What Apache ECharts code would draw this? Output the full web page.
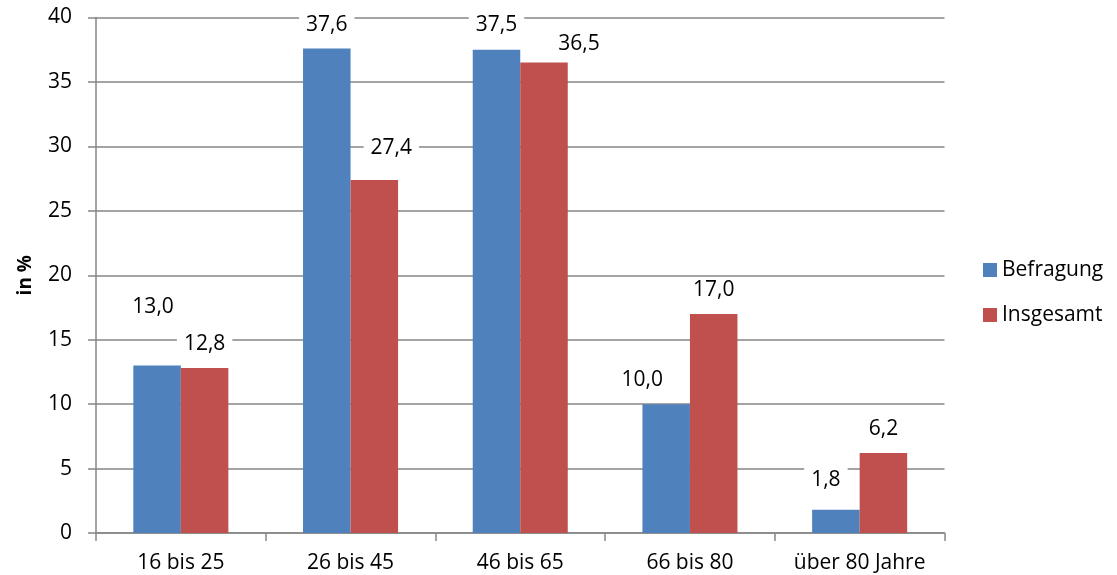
<!DOCTYPE html>
<html>
<head>
<meta charset="utf-8">
<script src="https://cdn.jsdelivr.net/npm/echarts@6/dist/echarts.min.js"></script>
<style>
html,body{margin:0;padding:0;background:#fff;}
#chart{width:1117px;height:575px;}
</style>
</head>
<body>
<div id="chart"></div>
<script>
const categories = ['16 bis 25', '26 bis 45', '46 bis 65', '66 bis 80', 'über 80 Jahre'];
const befragung = [13.0, 37.6, 37.5, 10.0, 1.8];
const insgesamt = [12.8, 27.4, 36.5, 17.0, 6.2];
const seriesNames = ['Befragung', 'Insgesamt'];
const yTicks = [0, 5, 10, 15, 20, 25, 30, 35, 40];

// label nudges (as placed in the original chart)
const befragungLabelOffsets = [[-4, -34], [0, 1], [0, -1], [-24, 0], [-10, -6]];
const insgesamtLabelOffsets = [[0, 0], [17, -8], [35, 5], [0, 0], [0, 0]];

const FONT = '"Open Sans", "Noto Sans", sans-serif';
const fmt = v => v.toFixed(1).replace('.', ',');

function buildData(values, offsets) {
  return values.map((v, i) => ({
    value: v,
    label: { offset: offsets[i] }
  }));
}

const labelStyle = {
  show: true,
  position: 'top',
  distance: 12,
  fontFamily: FONT,
  fontSize: 21,
  color: '#000',
  backgroundColor: '#fff',
  padding: [0, 7],
  lineHeight: 24,
  formatter: p => fmt(p.value)
};

const chart = echarts.init(document.getElementById('chart'), null, {renderer: 'canvas'});
chart.setOption({
  animation: false,
  backgroundColor: '#fff',
  textStyle: { fontFamily: FONT },
  grid: { left: 96, right: 172.5, top: 17.5, bottom: 42, containLabel: false },
  legend: {
    orient: 'vertical',
    left: 983,
    top: 258,
    padding: 0,
    itemWidth: 14,
    itemHeight: 14,
    itemGap: 21,
    icon: 'rect',
    data: seriesNames,
    textStyle: { fontFamily: FONT, fontSize: 21, lineHeight: 24, color: '#000' }
  },
  xAxis: {
    type: 'category',
    data: categories,
    axisLine: { lineStyle: { color: '#868686', width: 1.5 } },
    axisTick: { show: true, interval: 0, length: 8, lineStyle: { color: '#868686', width: 1.5 } },
    axisLabel: { interval: 0, hideOverlap: false, fontFamily: FONT, fontSize: 21, color: '#000', margin: 20 }
  },
  yAxis: {
    type: 'value',
    min: yTicks[0],
    max: yTicks[yTicks.length - 1],
    interval: 5,
    name: 'in %',
    nameLocation: 'middle',
    nameRotate: 90,
    nameGap: 61,
    nameTextStyle: { fontFamily: FONT, fontSize: 19, fontWeight: 'bold', color: '#000' },
    axisLine: { show: true, lineStyle: { color: '#868686', width: 1.5 } },
    axisTick: { show: true, length: 8, lineStyle: { color: '#868686', width: 1.5 } },
    axisLabel: { fontFamily: FONT, fontSize: 21, color: '#000', margin: 24 },
    splitLine: { show: true, lineStyle: { color: '#868686', width: 1.5 } }
  },
  series: [
    {
      name: seriesNames[0],
      type: 'bar',
      barWidth: '28%',
      barGap: '0%',
      itemStyle: { color: '#4F81BD' },
      label: labelStyle,
      data: buildData(befragung, befragungLabelOffsets)
    },
    {
      name: seriesNames[1],
      type: 'bar',
      barWidth: '28%',
      barGap: '0%',
      itemStyle: { color: '#C0504D' },
      label: labelStyle,
      data: buildData(insgesamt, insgesamtLabelOffsets)
    }
  ]
});
</script>
</body>
</html>
